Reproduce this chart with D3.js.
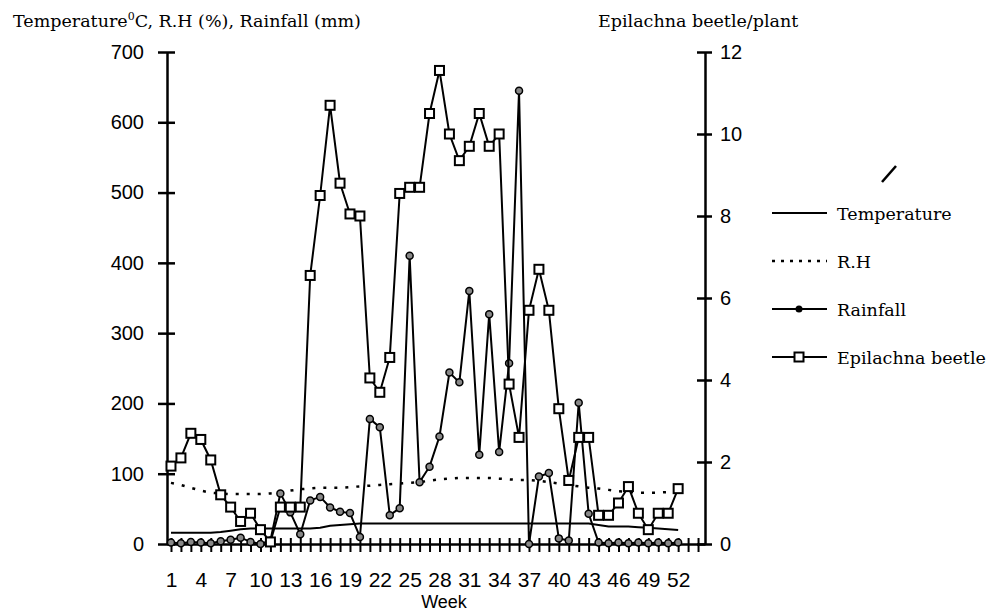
<!DOCTYPE html>
<html>
<head>
<meta charset="utf-8">
<script src="https://cdn.jsdelivr.net/npm/d3@7/dist/d3.min.js"></script>
<style>
  body { margin: 0; background: #fff; }
  .axis path, .axis line { stroke: #000; }
</style>
</head>
<body>
<svg id="chart" width="988" height="613"></svg>
<script>
const weeks = [1,2,3,4,5,6,7,8,9,10,11,12,13,14,15,16,17,18,19,20,21,22,23,24,25,26,
               27,28,29,30,31,32,33,34,35,36,37,38,39,40,41,42,43,44,45,46,47,48,49,50,51,52];
const temperature = [16,16,16,16,16,17,19,21,22,22,22,22,22,22,22,23,26,27,28,29,29,29,29,29,29,29,
                     29,29,29,29,29,29,29,29,29,29,29,29,29,29,29,29,29,27,25,25,25,24,23,22,21,20];
const rh = [87,84,80,76,73,72,71,71,71,71,72,74,76,78,79,80,80,80,81,82,83,84,85,86,87,88,
            90,92,93,94,94,94,94,93,92,91,91,90,88,86,84,82,80,79,77,75,74,73,73,73,74,75];
const rainfall = [2,1,3,2,1,4,6,9,3,0,5,72,45,14,62,67,52,46,44,10,178,166,41,51,410,88,
                  110,153,244,230,360,127,327,131,257,645,0,96,101,8,5,201,43,2,1,2,1,2,1,2,1,2];
const beetle = [1.9,2.1,2.7,2.55,2.05,1.2,0.9,0.55,0.75,0.35,0.05,0.9,0.9,0.9,6.55,8.5,10.7,8.8,8.05,8.0,4.05,3.7,4.55,8.55,8.7,8.7,
                10.5,11.55,10.0,9.35,9.7,10.5,9.7,10.0,3.9,2.6,5.7,6.7,5.7,3.3,1.55,2.6,2.6,0.7,0.7,1.0,1.4,0.75,0.35,0.75,0.75,1.35];

const leftTicks = [0,100,200,300,400,500,600,700];
const rightTicks = [0,2,4,6,8,10,12];
const weekTicks = [1,2,3,4,5,6,7,8,9,10,11,12,13,14,15,16,17,18,19,20,21,22,23,24,25,26,27,
                   28,29,30,31,32,33,34,35,36,37,38,39,40,41,42,43,44,45,46,47,48,49,50,51,52,53,54];
const weekLabels = [1,4,7,10,13,16,19,22,25,28,31,34,37,40,43,46,49,52];
const legendNames = ["Temperature", "R.H", "Rainfall", "Epilachna beetle"];

const svg = d3.select("#chart");
const serif = "'DejaVu Serif', serif";
const sans = "'Liberation Sans', Arial, sans-serif";

const x = d3.scaleLinear().domain([0.6, 54.7]).range([167, 705]);
const yLeft = d3.scaleLinear().domain([0, 700]).range([544, 52]);
const yRight = d3.scaleLinear().domain([0, 12]).range([544, 52]);

// axes
const leftAxis = svg.append("g")
  .attr("class", "axis")
  .attr("transform", "translate(167,0)")
  .call(d3.axisLeft(yLeft).tickValues(leftTicks).tickSize(0).tickPadding(23));
leftAxis.selectAll(".tick line").attr("x1", -9).attr("x2", 8).attr("stroke-width", 2.5);
leftAxis.selectAll("text").attr("font-size", 20);

const rightAxis = svg.append("g")
  .attr("class", "axis")
  .attr("transform", "translate(705,0)")
  .call(d3.axisRight(yRight).tickValues(rightTicks).tickSize(0).tickPadding(15));
rightAxis.selectAll(".tick line").attr("x1", -8).attr("x2", 7).attr("stroke-width", 2.5);
rightAxis.selectAll("text").attr("font-size", 20);

const bottomAxis = svg.append("g")
  .attr("class", "axis")
  .attr("transform", "translate(0,544)")
  .call(d3.axisBottom(x).tickValues(weekTicks).tickSize(0).tickPadding(28)
    .tickFormat(d => weekLabels.includes(d) ? d : ""));
bottomAxis.selectAll(".tick line").attr("y1", -6).attr("y2", 8).attr("stroke-width", 2);
bottomAxis.selectAll("text").attr("font-size", 21);

svg.selectAll(".axis .domain").attr("stroke-width", 2.5);
svg.selectAll(".axis text")
  .attr("font-family", sans)
  .attr("fill", "#000");

// titles
const leftTitle = svg.append("text")
  .attr("x", 13)
  .attr("y", 27)
  .attr("font-family", serif)
  .attr("font-size", 17.5)
  .text("Temperature");
leftTitle.append("tspan").attr("font-size", 11).attr("dy", -7).text("0");
leftTitle.append("tspan").attr("dy", 7).text("C, R.H (%), Rainfall (mm)");

svg.append("text")
  .attr("x", 598)
  .attr("y", 27)
  .attr("font-family", serif)
  .attr("font-size", 17.5)
  .text("Epilachna beetle/plant");

svg.append("text")
  .attr("x", 444)
  .attr("y", 608)
  .attr("text-anchor", "middle")
  .attr("font-family", sans)
  .attr("font-size", 18)
  .text("Week");

// series
const lineLeft = d3.line().x((d, i) => x(weeks[i])).y(d => yLeft(d));
const lineRight = d3.line().x((d, i) => x(weeks[i])).y(d => yRight(d));

svg.append("path")
  .attr("d", lineLeft(temperature))
  .attr("fill", "none")
  .attr("stroke", "#000")
  .attr("stroke-width", 2);

svg.append("path")
  .attr("d", lineLeft(rh))
  .attr("fill", "none")
  .attr("stroke", "#000")
  .attr("stroke-width", 2.5)
  .attr("stroke-dasharray", "3,8");

svg.append("path")
  .attr("d", lineLeft(rainfall))
  .attr("fill", "none")
  .attr("stroke", "#000")
  .attr("stroke-width", 2);

svg.append("g")
  .selectAll("circle")
  .data(rainfall)
  .enter()
  .append("circle")
  .attr("cx", (d, i) => x(weeks[i]))
  .attr("cy", d => yLeft(d))
  .attr("r", 3.5)
  .attr("fill", "#888")
  .attr("stroke", "#000")
  .attr("stroke-width", 1.5);

svg.append("path")
  .attr("d", lineRight(beetle))
  .attr("fill", "none")
  .attr("stroke", "#000")
  .attr("stroke-width", 2);

svg.append("g")
  .selectAll("rect")
  .data(beetle)
  .enter()
  .append("rect")
  .attr("x", (d, i) => x(weeks[i]) - 4.5)
  .attr("y", d => yRight(d) - 4.5)
  .attr("width", 9)
  .attr("height", 9)
  .attr("fill", "#fff")
  .attr("stroke", "#000")
  .attr("stroke-width", 2);

// legend
const legend = svg.append("g").attr("transform", "translate(772,213)");
legendNames.forEach((name, i) => {
  const row = legend.append("g").attr("transform", "translate(0," + i * 48 + ")");
  row.append("line")
    .attr("x1", 0).attr("x2", 55)
    .attr("stroke", "#000")
    .attr("stroke-width", i === 1 ? 2.5 : 2)
    .attr("stroke-dasharray", i === 1 ? "3,6" : null);
  if (i === 2) {
    row.append("circle").attr("cx", 27).attr("r", 3.5).attr("fill", "#000");
  }
  if (i === 3) {
    row.append("rect").attr("x", 22.5).attr("y", -4.5).attr("width", 9).attr("height", 9)
      .attr("fill", "#fff").attr("stroke", "#000").attr("stroke-width", 2);
  }
  row.append("text")
    .attr("x", 65)
    .attr("y", 7)
    .attr("font-family", serif)
    .attr("font-size", 17.5)
    .text(name);
});

// small stray stroke from the scan
svg.append("line")
  .attr("x1", 882).attr("y1", 182).attr("x2", 896).attr("y2", 166)
  .attr("stroke", "#000").attr("stroke-width", 2.5);
</script>
</body>
</html>
